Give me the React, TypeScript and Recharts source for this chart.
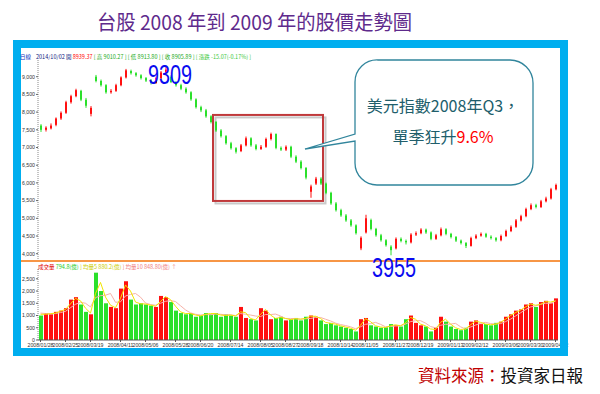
import {
  Bar,
  Cell,
  ComposedChart,
  Line,
  ReferenceArea,
  XAxis,
  YAxis,
} from 'recharts';

// one entry per ~3 trading days, Taiwan weighted index, 2008/01 – 2009/04
const opens = [
  7620, 7500, 7540, 7640, 7820, 7980, 8280, 8450, 8600, 8350,
  7950, 9000, 8880, 8760, 8560, 8600, 8760, 8980, 9160, 9100,
  9040, 8960, 8890, 8820, 8960, 9120, 9000, 8850, 8760, 8660,
  8560, 8360, 8140, 8050, 7880, 7720, 7480, 7320, 7120, 6980,
  6900, 7060, 7260, 7060, 6960, 7020, 7240, 7380, 6990, 6940,
  7020, 6740, 6600, 6420, 5750, 5980, 6120, 5980, 5720, 5420,
  5230, 5080, 4940, 4800, 4150, 4600, 4950, 4700, 4520, 4380,
  4200, 4150, 4420, 4360, 4320, 4540, 4580, 4680, 4600, 4420,
  4520, 4690, 4560, 4470, 4370, 4300, 4220, 4440, 4510, 4560,
  4480, 4440, 4380, 4500, 4640, 4760, 4940, 5060, 5260, 5370,
  5320, 5480, 5560, 5820,
];
const closes = [
  7500, 7560, 7620, 7820, 7980, 8280, 8450, 8620, 8350, 8180,
  8120, 8880, 8760, 8560, 8600, 8760, 8980, 9180, 9100, 9040,
  8960, 8890, 8820, 8960, 9120, 9200, 8850, 8760, 8660, 8560,
  8360, 8140, 8050, 7880, 7720, 7480, 7320, 7120, 6980, 6880,
  7060, 7260, 7060, 6960, 7020, 7240, 7380, 6990, 6940, 7020,
  6740, 6600, 6420, 6150, 5900, 6120, 5980, 5720, 5420, 5230,
  5080, 4940, 4800, 4580, 4450, 5000, 4700, 4520, 4380, 4240,
  4100, 4420, 4360, 4320, 4540, 4580, 4680, 4600, 4420, 4520,
  4690, 4560, 4470, 4370, 4300, 4220, 4440, 4510, 4560, 4480,
  4440, 4380, 4500, 4640, 4760, 4940, 5060, 5260, 5370, 5320,
  5480, 5560, 5820, 5940,
];
const highs = [
  7660, 7600, 7680, 7850, 8020, 8320, 8490, 8660, 8630, 8400,
  8170, 9050, 8920, 8790, 8650, 8800, 9010, 9220, 9200, 9130,
  9070, 8990, 8930, 9000, 9160, 9309, 9040, 8880, 8800, 8700,
  8590, 8390, 8180, 8090, 7910, 7750, 7520, 7350, 7160, 7010,
  7100, 7310, 7290, 7100, 7070, 7280, 7420, 7400, 7030, 7060,
  7050, 6780, 6640, 6450, 5950, 6170, 6160, 6010, 5750, 5460,
  5270, 5120, 4980, 4830, 4490, 5100, 4990, 4730, 4560, 4410,
  4240, 4460, 4460, 4400, 4580, 4630, 4720, 4710, 4630, 4560,
  4740, 4720, 4590, 4500, 4400, 4330, 4480, 4550, 4600, 4590,
  4520, 4470, 4540, 4680, 4800, 4980, 5100, 5300, 5420, 5410,
  5520, 5610, 5860, 5980,
];
const lows = [
  7440, 7450, 7510, 7600, 7780, 7950, 8240, 8420, 8310, 8120,
  7880, 8840, 8720, 8520, 8520, 8570, 8730, 8950, 9060, 9000,
  8920, 8850, 8780, 8800, 8930, 9080, 8820, 8720, 8620, 8520,
  8320, 8100, 8000, 7840, 7680, 7440, 7280, 7080, 6940, 6830,
  6870, 7030, 7020, 6920, 6930, 6990, 7200, 6950, 6900, 6900,
  6700, 6560, 6380, 6100, 5580, 5940, 5940, 5680, 5380, 5190,
  5040, 4900, 4760, 4540, 4100, 4570, 4660, 4480, 4340, 4200,
  3955, 4120, 4320, 4260, 4290, 4500, 4550, 4560, 4380, 4390,
  4490, 4520, 4430, 4330, 4260, 4160, 4200, 4410, 4480, 4450,
  4400, 4340, 4350, 4470, 4610, 4730, 4910, 5030, 5230, 5280,
  5290, 5450, 5530, 5790,
];
// 成交量 (億)
const volumes = [
  1000, 1100, 1050, 1150, 1200, 1300, 1650, 1750, 1450, 1150,
  1050, 2750, 2000, 1500, 1350, 1300, 2100, 2400, 1650, 1450,
  1500, 1450, 1400, 1350, 1800, 1750, 1550, 1200, 1100, 1050,
  1100, 950, 1000, 1100, 1050, 1100, 950, 1050, 1000, 950,
  1350, 900, 850, 800, 1300, 1200, 850, 900, 950, 800,
  850, 900, 800, 950, 1000, 950, 800, 650, 700, 600,
  550, 500, 450, 350, 850, 900, 600, 550, 500, 520,
  650, 600, 550, 850, 1000, 700, 600, 550, 350, 500,
  950, 750, 550, 450, 400, 500, 750, 800, 650, 650,
  600, 700, 750, 950, 1050, 1200, 1250, 1450, 1500, 1350,
  1550, 1600, 1500, 1700,
];
const volMa5 = [
  1050, 1050, 1075, 1100, 1175, 1250, 1475, 1700, 1600, 1300,
  1100, 1900, 2350, 1750, 1420, 1320, 1700, 2250, 2000, 1550,
  1480, 1470, 1420, 1380, 1570, 1770, 1650, 1380, 1150, 1080,
  1080, 1020, 980, 1050, 1080, 1080, 1020, 1000, 1020, 980,
  1150, 1120, 880, 820, 1050, 1250, 1020, 880, 920, 880,
  830, 870, 850, 880, 970, 970, 880, 720, 680, 650,
  580, 530, 480, 400, 600, 870, 750, 580, 530, 510,
  580, 620, 580, 700, 920, 850, 650, 580, 450, 430,
  720, 850, 650, 500, 430, 450, 620, 770, 720, 650,
  620, 650, 720, 850, 1000, 1120, 1220, 1350, 1470, 1420,
  1450, 1570, 1550, 1600,
];
const volMa10 = [
  1100, 1080, 1070, 1080, 1120, 1170, 1320, 1460, 1540, 1500,
  1350, 1730, 1810, 1830, 1900, 1540, 1560, 1800, 1860, 1900,
  1750, 1510, 1450, 1420, 1500, 1580, 1610, 1570, 1400, 1230,
  1110, 1050, 1020, 1040, 1030, 1060, 1050, 1030, 1030, 1000,
  1080, 1050, 1020, 980, 960, 1040, 1040, 1060, 980, 880,
  880, 870, 850, 870, 880, 920, 920, 850, 780, 690,
  630, 590, 540, 460, 540, 640, 670, 720, 640, 540,
  550, 570, 580, 650, 750, 790, 790, 690, 550, 500,
  600, 640, 650, 680, 540, 450, 530, 610, 680, 720,
  670, 650, 670, 750, 850, 980, 1110, 1240, 1350, 1390,
  1460, 1500, 1500, 1590,
];

const tickIdx = [0, 5, 10, 16, 21, 27, 32, 38, 44, 49, 54, 60, 65, 71, 76, 82, 87, 93, 98, 103];
const tickLabels = [
  '2008/01/28', '2008/02/25', '2008/03/19', '2008/04/11', '2008/05/06',
  '2008/05/28', '2008/06/20', '2008/07/14', '2008/08/05', '2008/08/27',
  '2008/09/18', '2008/10/14', '2008/11/05', '2008/11/27', '2008/12/19',
  '2009/01/13', '2009/02/12', '2009/03/06', '2009/03/30', '2009/04/22',
];
const priceTicks = [4000, 4500, 5000, 5500, 6000, 6500, 7000, 7500, 8000, 8500, 9000];
const volTicks = [0, 500, 1000, 1500, 2000, 2500];

const UP = '#FF1010';
const DOWN = '#2BE02B';
const AXIS_FONT = 'Liberation Sans, Arial, sans-serif';
const CJK_FONT = '"Noto Sans CJK TC", "Noto Sans CJK SC", sans-serif';

const rows = opens.map((o, i) => ({
  i,
  open: o,
  close: closes[i],
  range: [lows[i], highs[i]],
  vol: volumes[i],
  ma5: volMa5[i],
  ma10: volMa10[i],
}));

const fmt = (v: number) => v.toLocaleString('en-US');

function Candle(props: any) {
  const { x, y, width, height, payload } = props;
  if (!payload) return null;
  const top = Math.min(y, y + height);
  const h = Math.abs(height);
  const [lo, hi] = payload.range;
  const py = (v: number) => top + ((hi - v) / (hi - lo || 1)) * h;
  const up = payload.close >= payload.open;
  const color = up ? UP : DOWN;
  const b1 = py(Math.max(payload.open, payload.close));
  const b2 = py(Math.min(payload.open, payload.close));
  const cx = x + width / 2;
  return (
    <g>
      <line x1={cx} x2={cx} y1={top} y2={top + h} stroke={color} strokeWidth={1} />
      <rect x={x} y={b1} width={width} height={Math.max(1, b2 - b1)} fill={color} />
    </g>
  );
}

// red highlight box with a grey drop shadow
function HighlightBox(props: any) {
  const { x, y, width, height } = props;
  return (
    <g>
      <rect x={x + 2.5} y={y + 2.5} width={width} height={height} fill="none" stroke="#C9C9C9" strokeWidth={2} />
      <rect x={x} y={y} width={width} height={height} fill="none" stroke="#C0393B" strokeWidth={2} />
    </g>
  );
}

export default function App() {
  return (
    <div style={{ position: 'absolute', left: 0, top: 0, width: 600, height: 394, background: '#fff', overflow: 'hidden' }}>
      {/* price panel */}
      <div style={{ position: 'absolute', left: 0, top: 0 }}>
        <ComposedChart width={600} height={265} data={rows} margin={{ top: 60, right: 42, bottom: 5, left: 0 }}>
          <XAxis dataKey="i" type="category" hide />
          <YAxis
            domain={[3822, 9472]}
            ticks={priceTicks}
            width={38}
            tickFormatter={fmt}
            tick={{ fontSize: 5.2, fill: '#333', fontFamily: AXIS_FONT }}
            axisLine={{ stroke: '#888', strokeDasharray: '1 1' }}
            tickLine={{ stroke: '#666' }}
            tickSize={2}
            tickMargin={1}
            allowDataOverflow
          />
          <ReferenceArea x1={35} x2={56} y1={5490} y2={7920} shape={HighlightBox} />
          <Bar dataKey="range" barSize={2} shape={Candle} isAnimationActive={false} />
        </ComposedChart>
      </div>

      {/* volume panel */}
      <div style={{ position: 'absolute', left: 0, top: 260 }}>
        <ComposedChart width={600} height={92} data={rows} margin={{ top: 9, right: 42, bottom: 0, left: 0 }}>
          <XAxis
            dataKey="i"
            type="category"
            ticks={tickIdx}
            interval={0}
            height={12}
            tickFormatter={(v: number) => tickLabels[tickIdx.indexOf(v)] ?? ''}
            tick={{ fontSize: 5.2, fill: '#333', fontFamily: AXIS_FONT }}
            axisLine={{ stroke: '#555' }}
            tickLine={{ stroke: '#555' }}
            tickSize={2}
            tickMargin={1}
          />
          <YAxis
            domain={[0, 2900]}
            ticks={volTicks}
            width={38}
            tickFormatter={fmt}
            tick={{ fontSize: 5.2, fill: '#333', fontFamily: AXIS_FONT }}
            axisLine={{ stroke: '#888', strokeDasharray: '1 1' }}
            tickLine={{ stroke: '#666' }}
            tickSize={2}
            tickMargin={1}
          />
          <Bar dataKey="vol" barSize={4} isAnimationActive={false}>
            {rows.map((r) => (
              <Cell key={r.i} fill={r.close >= r.open ? UP : DOWN} />
            ))}
          </Bar>
          <Line dataKey="ma10" stroke="#F7B2A8" strokeWidth={1} dot={false} isAnimationActive={false} />
          <Line dataKey="ma5" stroke="#F2E600" strokeWidth={1} dot={false} isAnimationActive={false} />
        </ComposedChart>
      </div>

      {/* divider between the two panels */}
      <div style={{ position: 'absolute', left: 21, top: 260, width: 540, height: 2, background: '#F79646' }} />

      {/* blue frame */}
      <div
        style={{
          position: 'absolute', left: 13, top: 40, width: 555, height: 316,
          border: '8px solid #00AEEF', boxSizing: 'border-box',
        }}
      />

      <svg width={600} height={394} style={{ position: 'absolute', left: 0, top: 0, pointerEvents: 'none' }}>
        <text x={97} y={30} fontSize={20} fill="#5E2A8C" fontFamily={CJK_FONT} textLength={315} lengthAdjust="spacingAndGlyphs">
          台股 2008 年到 2009 年的股價走勢圖
        </text>

        <text y={59} fontSize={5.5} fontFamily={CJK_FONT}>
          <tspan x={20} fill="#1030C0">日線</tspan>
          <tspan x={36} fill="#102080">2014/10/02 開</tspan>
          <tspan fill="#FF0000"> 8939.37</tspan>
          <tspan fill="#1AAA1A"> [ 高 9010.27 ]</tspan>
          <tspan fill="#1AAA1A"> [ 低 8913.80 ]</tspan>
          <tspan fill="#1AAA1A"> [ 收 8905.89 ]</tspan>
          <tspan fill="#3CC83C"> [ 漲跌 -15.07(-0.17%) ]</tspan>
        </text>

        <text y={269} fontSize={5.5} fontFamily={CJK_FONT}>
          <tspan x={38} fill="#E00000">成交量</tspan>
          <tspan fill="#22CC22"> 794.8(億)</tspan>
          <tspan fill="#CCCC00"> ] 均量5 880.2(億)</tspan>
          <tspan fill="#F08080"> ] 均量10 848.80(億) ↑</tspan>
        </text>

        <text x={148} y={84} fontSize={27} fill="#0A0AF0" fontFamily={AXIS_FONT} textLength={44} lengthAdjust="spacingAndGlyphs">9309</text>
        <text x={372} y={277} fontSize={27} fill="#0A0AF0" fontFamily={AXIS_FONT} textLength={44} lengthAdjust="spacingAndGlyphs">3955</text>

        <path
          d="M 378 60 H 510 A 23 23 0 0 1 533 83 V 163 A 22 22 0 0 1 511 185 H 377 A 22 22 0 0 1 355 163 V 141 L 305 149 L 355 134 V 82 A 22 22 0 0 1 378 60 Z"
          fill="#fff"
          stroke="#31859C"
          strokeWidth={1.3}
        />
        <text x={443} y={112} fontSize={16} fill="#215E6B" fontFamily={CJK_FONT} textAnchor="middle">
          美元指數2008年Q3，
        </text>
        <text x={443} y={143} fontSize={16} fill="#215E6B" fontFamily={CJK_FONT} textAnchor="middle">
          單季狂升<tspan fill="#FF0000">9.6%</tspan>
        </text>

        <text x={583} y={382} fontSize={16.5} fontFamily={CJK_FONT} textAnchor="end">
          <tspan fill="#C00000">資料來源：</tspan>
          <tspan fill="#111">投資家日報</tspan>
        </text>
      </svg>
    </div>
  );
}
